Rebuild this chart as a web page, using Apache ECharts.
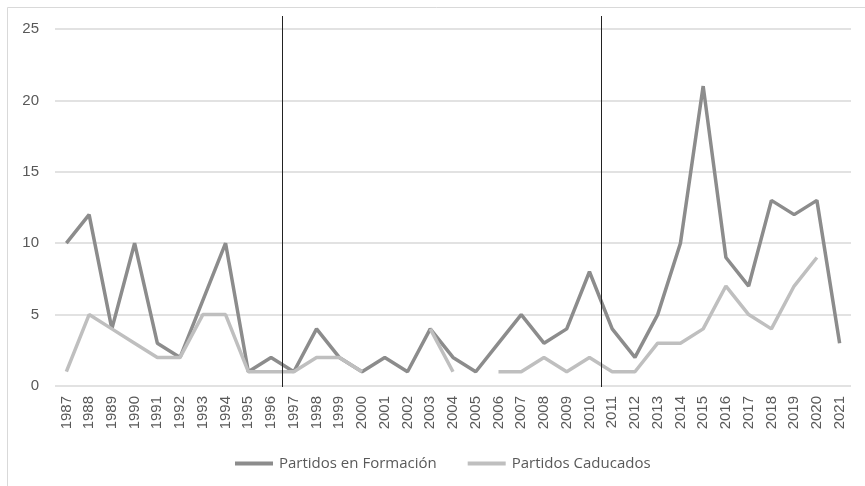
<!DOCTYPE html>
<html>
<head>
<meta charset="utf-8">
<script src="https://cdn.jsdelivr.net/npm/echarts@6/dist/echarts.min.js"></script>
<style>
html,body{margin:0;padding:0;background:#fff;}
#c{width:865px;height:486px;}
</style>
</head>
<body>
<div id="c"></div>
<script>
var years = ['1987','1988','1989','1990','1991','1992','1993','1994','1995','1996','1997','1998','1999','2000','2001','2002','2003','2004','2005','2006','2007','2008','2009','2010','2011','2012','2013','2014','2015','2016','2017','2018','2019','2020','2021'];
var formacion = [10,12,4,10,3,2,6,10,1,2,1,4,2,1,2,1,4,2,1,3,5,3,4,8,4,2,5,10,21,9,7,13,12,13,3];
var caducados = [1,5,4,3,2,2,5,5,1,1,1,2,2,1,null,null,4,1,null,1,1,2,1,2,1,1,3,3,4,7,5,4,7,9,null];
var dividersAfter = ['1996','2010'];
var yTicks = [0,5,10,15,20,25];

var chart = echarts.init(document.getElementById('c'), null, {renderer:'canvas'});
var txt = '#595959';
var dividerPos = dividersAfter.map(function(y){ return {xAxis: years.indexOf(y) + 1}; });

chart.setOption({
  animation:false,
  backgroundColor:'#fff',
  graphic:[{type:'rect', shape:{x:7.5,y:7.5,width:900,height:600}, style:{fill:'none', stroke:'#d9d9d9', lineWidth:1}, silent:true}],
  legend:{
    data:['Partidos en Formación','Partidos Caducados'],
    left:230, top:451,
    icon:'rect', itemWidth:38, itemHeight:4, itemGap:31,
    textStyle:{color:txt, fontFamily:'Open Sans', fontSize:15, padding:[0,0,0,1]}
  },
  grid:[
    {left:55, right:14, top:29, bottom:100},
    {left:55, right:14, top:16, bottom:99}
  ],
  xAxis:[
    {type:'category', data:years, gridIndex:0, boundaryGap:true,
     axisLine:{show:false}, axisTick:{show:false},
     axisLabel:{rotate:90, color:txt, fontFamily:'Liberation Sans', fontSize:15, interval:0, margin:10}},
    {type:'value', gridIndex:1, min:0, max:years.length, show:false}
  ],
  yAxis:[
    {type:'value', gridIndex:0, min:yTicks[0], max:yTicks[yTicks.length-1], interval:5,
     axisLine:{show:false}, axisTick:{show:false},
     axisLabel:{color:txt, fontFamily:'Liberation Sans', fontSize:15, margin:16},
     splitLine:{lineStyle:{color:'#d9d9d9', width:1.5}}},
    {type:'value', gridIndex:1, min:0, max:1, show:false}
  ],
  series:[
    {name:'Partidos en Formación', type:'line', data:formacion, xAxisIndex:0, yAxisIndex:0,
     showSymbol:false, symbol:'none', color:'#8c8c8c', lineStyle:{width:3.5, color:'#8c8c8c'}, z:2},
    {name:'Partidos Caducados', type:'line', data:caducados, xAxisIndex:0, yAxisIndex:0,
     showSymbol:false, symbol:'none', color:'#bfbfbf', lineStyle:{width:3.5, color:'#bfbfbf'}, z:3},
    {type:'line', xAxisIndex:1, yAxisIndex:1, data:[], silent:true,
     markLine:{symbol:'none', silent:true, label:{show:false},
       lineStyle:{color:'#222', width:1, type:'solid'}, data:dividerPos}, z:5}
  ]
});
</script>
</body>
</html>
